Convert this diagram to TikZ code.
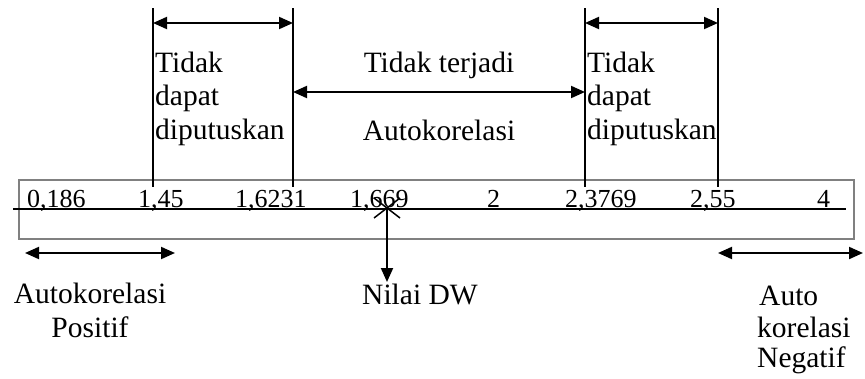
\documentclass[tikz,border=0pt]{standalone}
\usepackage{fontspec}
\setmainfont{Liberation Serif}
\usetikzlibrary{arrows.meta}
\begin{document}
\begin{tikzpicture}[x=1pt,y=-1pt,
  txt/.style={inner sep=0pt,font=\fontsize{29.5}{32}\selectfont},
  num/.style={inner sep=0pt,anchor=base west,font=\fontsize{26}{30}\selectfont},
  dbl/.style={line width=2pt,{Triangle[length=14pt,width=12pt]}-{Triangle[length=14pt,width=12pt]}},
  sgl/.style={line width=2pt,-{Triangle[length=14pt,width=12pt]}},
  vline/.style={line width=1.5pt}]
\useasboundingbox (0,0) rectangle (865,378);
% box and axis
\node[draw=gray,line width=2pt,minimum width=835pt,minimum height=59pt,inner sep=0pt,anchor=north west] (box) at (18,179) {};
\coordinate (axL) at (13,209);
\coordinate (axR) at (846,209);
\draw[line width=2pt] (axL) -- (axR);
% numbers
\node[num] (n1) at (27,207) {0,186};
\node[num] (n2) at (138,207) {1,45};
\node[num] (n3) at (235,207) {1,6231};
\node[num] (n4) at (350,207) {1,669};
\node[num] (n5) at (487,207) {2};
\node[num] (n6) at (565,207) {2,3769};
\node[num] (n7) at (690,207) {2,55};
\node[num] (n8) at (817,207) {4};
% vertical lines
\coordinate (v1t) at (153,8); \coordinate (v1b) at (153,187);
\coordinate (v2t) at (293,8); \coordinate (v2b) at (293,187);
\coordinate (v3t) at (585,8); \coordinate (v3b) at (585,187);
\coordinate (v4t) at (718,8); \coordinate (v4b) at (718,187);
\draw[vline] (v1t) -- (v1b);
\draw[vline] (v2t) -- (v2b);
\draw[vline] (v3t) -- (v3b);
\draw[vline] (v4t) -- (v4b);
% top arrows
\coordinate (a1l) at (153,23); \coordinate (a1r) at (293,23);
\coordinate (a2l) at (585,23); \coordinate (a2r) at (718,23);
\coordinate (a3l) at (293,92); \coordinate (a3r) at (585,92);
\draw[dbl] (a1l) -- (a1r);
\draw[dbl] (a2l) -- (a2r);
\draw[dbl] (a3l) -- (a3r);
% top texts
\node[txt,anchor=base west] (t1a) at (155,72) {Tidak};
\node[txt,anchor=base west] (t1b) at (155,105) {dapat};
\node[txt,anchor=base west] (t1c) at (155,139) {diputuskan};
\node[txt,anchor=base west] (t3a) at (587,72) {Tidak};
\node[txt,anchor=base west] (t3b) at (587,105) {dapat};
\node[txt,anchor=base west] (t3c) at (587,139) {diputuskan};
\node[txt,anchor=base] (t2a) at (439,72) {Tidak terjadi};
\node[txt,anchor=base] (t2b) at (439,140) {Autokorelasi};
% DW marker
\coordinate (dw) at (387,208);
\coordinate (dwend) at (387,282);
\draw[line width=1.5pt] (374,198) -- (400,218);
\draw[line width=1.5pt] (374,218) -- (400,198);
\draw[sgl] (dw) -- (dwend);
\node[txt,anchor=base] (nd) at (420,304) {Nilai DW};
% bottom arrows
\coordinate (b1l) at (25,253); \coordinate (b1r) at (175,253);
\coordinate (b2l) at (718,253); \coordinate (b2r) at (863,253);
\draw[dbl] (b1l) -- (b1r);
\draw[dbl] (b2l) -- (b2r);
\node[txt,anchor=base] (p1) at (90,303) {Autokorelasi};
\node[txt,anchor=base] (p2) at (90,337) {Positif};
\node[txt,anchor=base west] (q1) at (759,305) {Auto};
\node[txt,anchor=base west] (q2) at (757,337) {korelasi};
\node[txt,anchor=base west] (q3) at (757,367) {Negatif};
\end{tikzpicture}
\end{document}
